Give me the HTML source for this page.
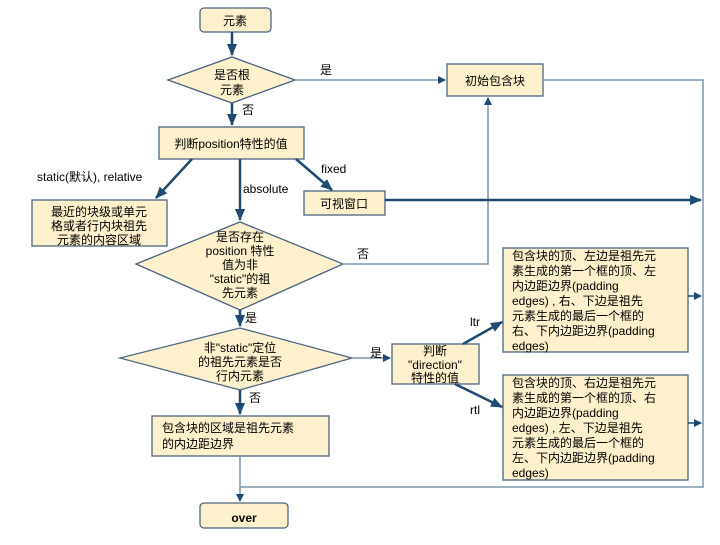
<!DOCTYPE html>
<html><head><meta charset="utf-8"><style>
body{margin:0;background:#fff}
svg text{font-family:"Liberation Sans","Noto Sans CJK SC",sans-serif;font-size:12px;fill:#000}
</style></head><body>
<svg width="720" height="540" viewBox="0 0 720 540" xmlns="http://www.w3.org/2000/svg">
<defs>
<marker id="a" markerWidth="8" markerHeight="8" refX="7" refY="4" orient="auto" markerUnits="userSpaceOnUse"><path d="M0,0L8,4L0,8z" fill="#1f4a72"/></marker>
<marker id="b" markerWidth="12" markerHeight="10" refX="11" refY="5" orient="auto" markerUnits="userSpaceOnUse"><path d="M0,0L12,5L0,10z" fill="#1f4a72"/></marker>
</defs>
<g fill="#fdf0cc" stroke="#4a6580" stroke-width="1.3">
<rect x="200" y="8" width="71" height="24" rx="4"/>
<polygon points="168,80 232,57 295,80 232,103"/>
<rect x="447" y="64" width="96" height="32"/>
<rect x="159" y="127" width="145" height="32"/>
<rect x="32" y="200" width="135" height="46"/>
<rect x="304" y="191" width="81" height="24"/>
<polygon points="136,264 240,222 343,264 240,310"/>
<polygon points="120,358 240,328 352,358 240,390"/>
<rect x="392" y="344" width="87" height="40"/>
<rect x="503" y="248" width="185" height="104"/>
<rect x="503" y="375" width="185" height="105"/>
<rect x="152" y="416" width="177" height="40"/>
<rect x="200" y="503" width="88" height="25" rx="4"/>
</g>
<g fill="none" stroke="#7d95aa" stroke-width="1.5">
<path d="M295,80H445" marker-end="url(#a)"/>
<path d="M543,80H703V487H240"/>
<path d="M343,264H488V98" marker-end="url(#a)"/>
<path d="M240,456V501" marker-end="url(#a)"/>
<path d="M352,358H390" marker-end="url(#a)"/>
</g>
<g fill="none" stroke="#1f4a72" stroke-width="2.5">
<path d="M232,32V55" marker-end="url(#b)"/>
<path d="M232,103V125" marker-end="url(#b)"/>
<path d="M192,159L156,198" marker-end="url(#b)"/>
<path d="M240,159V220" marker-end="url(#b)"/>
<path d="M296,159L332,190" marker-end="url(#b)"/>
<path d="M385,200H701" marker-end="url(#b)"/>
<path d="M240,310V326" marker-end="url(#b)"/>
<path d="M240,390V414" marker-end="url(#b)"/>
<path d="M463,344L502,322" marker-end="url(#b)"/>
<path d="M455,384L502,407" marker-end="url(#b)"/>
<path d="M688,296H701" marker-end="url(#a)" stroke-width="1.5"/>
<path d="M688,423H701" marker-end="url(#a)" stroke-width="1.5"/>
</g>
<text x="235" y="25" text-anchor="middle" font-size="13">元素</text>
<text x="232" y="79" text-anchor="middle" font-size="13">是否根</text>
<text x="232" y="94" text-anchor="middle" font-size="13">元素</text>
<text x="320" y="74" font-size="13">是</text>
<text x="242" y="114">否</text>
<text x="495" y="85" text-anchor="middle" font-size="13">初始包含块</text>
<text x="231" y="148" text-anchor="middle" font-size="12">判断position特性的值</text>
<text x="37" y="181" font-size="11">static(默认), relative</text>
<text x="243" y="193" font-size="11">absolute</text>
<text x="321" y="173" font-size="11">fixed</text>
<text x="99" y="216" text-anchor="middle">最近的块级或单元</text>
<text x="99" y="230" text-anchor="middle">格或者行内块祖先</text>
<text x="99" y="244" text-anchor="middle">元素的内容区域</text>
<text x="344" y="208" text-anchor="middle">可视窗口</text>
<text x="240" y="241" text-anchor="middle">是否存在</text>
<text x="240" y="255" text-anchor="middle">position 特性</text>
<text x="240" y="269" text-anchor="middle">值为非</text>
<text x="240" y="283" text-anchor="middle">"static"的祖</text>
<text x="240" y="297" text-anchor="middle">先元素</text>
<text x="357" y="258">否</text>
<text x="245" y="322">是</text>
<text x="240" y="352" text-anchor="middle">非"static"定位</text>
<text x="240" y="366" text-anchor="middle">的祖先元素是否</text>
<text x="240" y="380" text-anchor="middle">行内元素</text>
<text x="370" y="357">是</text>
<text x="249" y="402">否</text>
<text x="435" y="355" text-anchor="middle">判断</text>
<text x="435" y="369" text-anchor="middle">"direction"</text>
<text x="435" y="382" text-anchor="middle">特性的值</text>
<text x="470" y="326">ltr</text>
<text x="470" y="414">rtl</text>
<g font-size="11.5">
<text x="512" y="260">包含块的顶、左边是祖先元</text>
<text x="512" y="275">素生成的第一个框的顶、左</text>
<text x="512" y="290">内边距边界(padding</text>
<text x="512" y="305">edges) , 右、下边是祖先</text>
<text x="512" y="320">元素生成的最后一个框的</text>
<text x="512" y="335">右、下内边距边界(padding</text>
<text x="512" y="350">edges)</text>
<text x="512" y="387">包含块的顶、右边是祖先元</text>
<text x="512" y="402">素生成的第一个框的顶、右</text>
<text x="512" y="417">内边距边界(padding</text>
<text x="512" y="432">edges) , 左、下边是祖先</text>
<text x="512" y="447">元素生成的最后一个框的</text>
<text x="512" y="462">左、下内边距边界(padding</text>
<text x="512" y="477">edges)</text>
</g>
<text x="162" y="432">包含块的区域是祖先元素</text>
<text x="162" y="448">的内边距边界</text>
<text x="244" y="522" text-anchor="middle" font-size="16" font-weight="bold">over</text>
</svg>
</body></html>
